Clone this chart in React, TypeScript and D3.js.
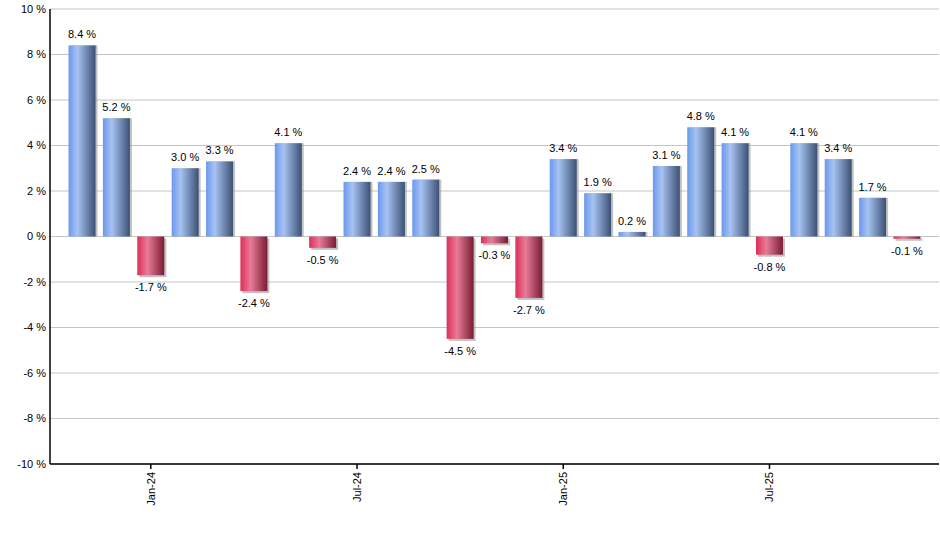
import * as d3 from "d3";

// monthly returns, Nov-23 .. Nov-25
const months = [
  "Nov-23", "Dec-23", "Jan-24", "Feb-24", "Mar-24", "Apr-24", "May-24", "Jun-24",
  "Jul-24", "Aug-24", "Sep-24", "Oct-24", "Nov-24", "Dec-24", "Jan-25", "Feb-25",
  "Mar-25", "Apr-25", "May-25", "Jun-25", "Jul-25", "Aug-25", "Sep-25", "Oct-25",
  "Nov-25",
];
const returns = [
  8.4, 5.2, -1.7, 3.0, 3.3, -2.4, 4.1, -0.5, 2.4, 2.4, 2.5, -4.5, -0.3, -2.7,
  3.4, 1.9, 0.2, 3.1, 4.8, 4.1, -0.8, 4.1, 3.4, 1.7, -0.1,
];
const xTicks = ["Jan-24", "Jul-24", "Jan-25", "Jul-25"];
const yTicks = [-10, -8, -6, -4, -2, 0, 2, 4, 6, 8, 10];

const width = 940;
const height = 550;
const left = 50;
const right = 939;
const top = 9;
const bottom = 464;
const font = "'Liberation Sans', Arial, sans-serif";

export default function App() {
  const x = d3
    .scaleBand<string>()
    .domain(months)
    .range([left, right])
    .paddingInner(0.215)
    .paddingOuter(0.54);
  const y = d3.scaleLinear().domain([-10, 10]).range([bottom, top]);
  const bw = x.bandwidth();

  return (
    <div style={{ position: "absolute", left: 0, top: 0 }}>
      <svg width={width} height={height} style={{ display: "block", background: "#fff" }}>
        <defs>
          <linearGradient id="gPos" x1="0" x2="1" y1="0" y2="0">
            <stop offset="0" stopColor="#6a98ee" />
            <stop offset="0.33" stopColor="#a8c3f2" />
            <stop offset="1" stopColor="#3b5074" />
          </linearGradient>
          <linearGradient id="gNeg" x1="0" x2="1" y1="0" y2="0">
            <stop offset="0" stopColor="#de2d57" />
            <stop offset="0.38" stopColor="#e87b98" />
            <stop offset="1" stopColor="#7a1c34" />
          </linearGradient>
        </defs>

        {/* grid */}
        {yTicks.map((t) => (
          <line
            key={"g" + t}
            x1={left}
            x2={right}
            y1={y(t)}
            y2={y(t)}
            stroke="#c4c4c4"
            strokeWidth={1}
          />
        ))}

        {/* bars */}
        {returns.map((v, i) => {
          const bx = x(months[i])!;
          const y0 = y(Math.max(0, v));
          const h = Math.abs(y(v) - y(0));
          return (
            <g key={months[i]}>
              <rect x={bx + 2} y={y0 + (v < 0 ? 2 : 0)} width={bw} height={h} fill="#9a9a9a" opacity={0.6} />
              <rect x={bx} y={y0} width={bw} height={h} fill={v >= 0 ? "url(#gPos)" : "url(#gNeg)"} />
            </g>
          );
        })}

        {/* value labels */}
        {returns.map((v, i) => (
          <text
            key={"l" + i}
            x={x(months[i])! + bw / 2}
            y={v >= 0 ? y(v) - 7 : y(v) + 16}
            textAnchor="middle"
            fontFamily={font}
            fontSize={11}
            fill="#000"
          >
            {v.toFixed(1) + " %"}
          </text>
        ))}

        {/* axes */}
        <line x1={left} x2={left} y1={top} y2={bottom} stroke="#000" strokeWidth={1.5} />
        <line x1={left} x2={right} y1={bottom} y2={bottom} stroke="#000" strokeWidth={1.5} />

        {yTicks.map((t) => (
          <text
            key={"y" + t}
            x={left - 4}
            y={y(t)}
            dy="0.35em"
            textAnchor="end"
            fontFamily={font}
            fontSize={11}
            fill="#000"
          >
            {t + " %"}
          </text>
        ))}

        {xTicks.map((m) => {
          const cx = x(m)! + bw / 2;
          return (
            <g key={"x" + m}>
              <line x1={cx} x2={cx} y1={bottom} y2={bottom + 5} stroke="#000" strokeWidth={1.5} />
              <text
                transform={`translate(${cx + 4},${bottom + 8}) rotate(-90)`}
                textAnchor="end"
                fontFamily={font}
                fontSize={11}
                fill="#000"
              >
                {m}
              </text>
            </g>
          );
        })}
      </svg>
    </div>
  );
}
